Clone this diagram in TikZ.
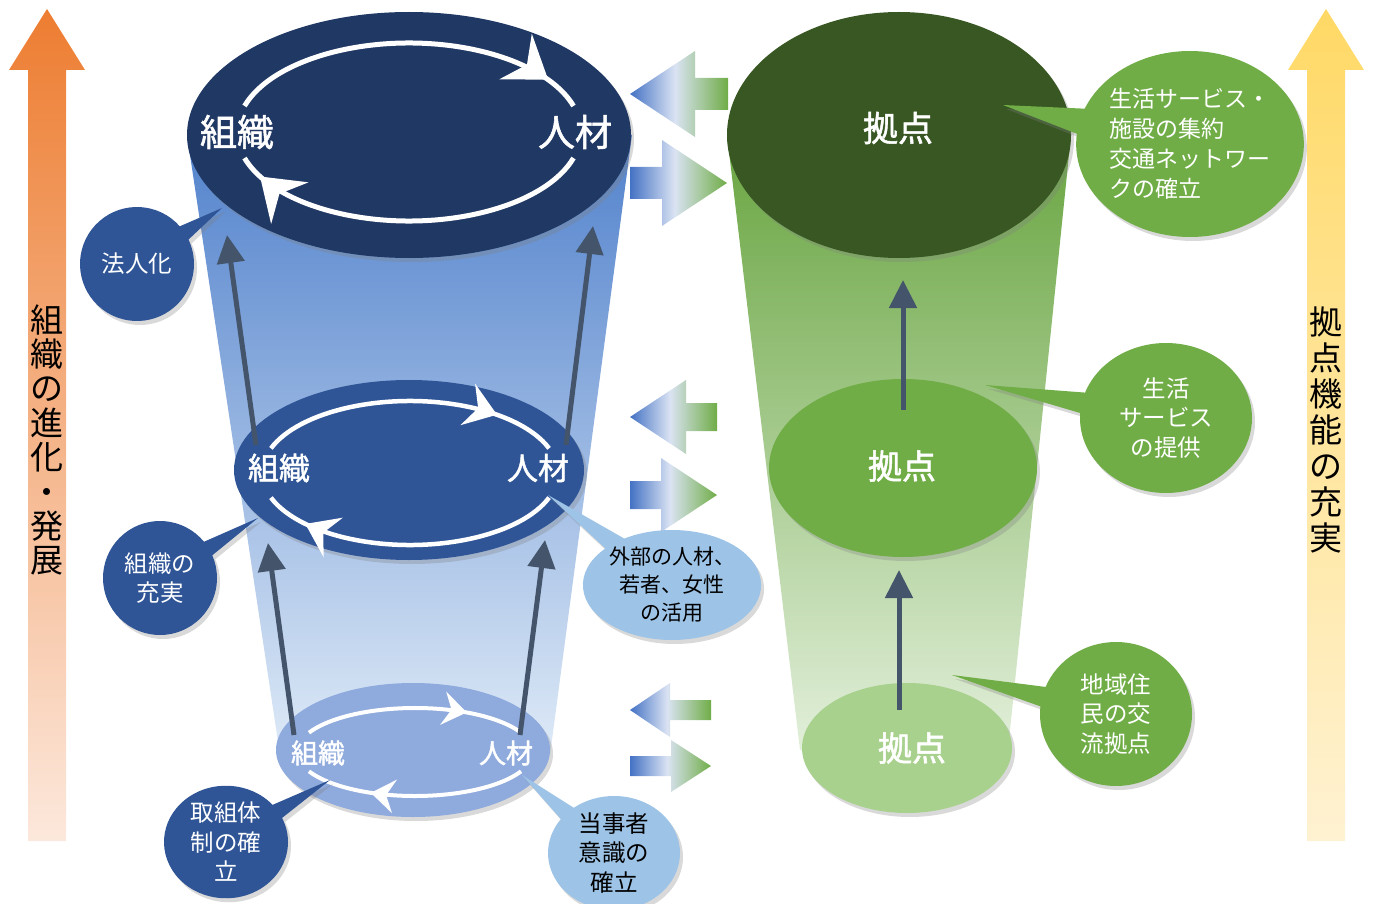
\documentclass[tikz,border=0pt]{standalone}
\usepackage{fontspec}
\newfontfamily\jp{Noto Sans CJK JP}
\newfontfamily\jpbold{Noto Sans CJK JP}[FakeBold=1.5]
\usetikzlibrary{arrows.meta,shapes.geometric,shapes.callouts,shadows}

\definecolor{orgtop}{RGB}{32,56,100}
\definecolor{orgmid}{RGB}{47,85,151}
\definecolor{orglow}{RGB}{143,170,220}
\definecolor{hubtop}{RGB}{56,87,35}
\definecolor{hubmid}{RGB}{112,173,71}
\definecolor{hublow}{RGB}{169,209,142}
\definecolor{riser}{RGB}{68,84,106}
\definecolor{bubblelight}{RGB}{157,195,230}
\definecolor{arrblue}{RGB}{68,114,196}
\definecolor{arrlight}{RGB}{218,227,243}
\definecolor{arrgreen}{RGB}{112,173,71}
\pgfdeclarehorizontalshading{bluegreen}{100bp}{color(0bp)=(arrblue); color(25bp)=(arrblue);
  color(48bp)=(arrlight); color(75bp)=(arrgreen); color(100bp)=(arrgreen)}

% chevron head on a ring: centre, radii, angle, length, width, inset
\newcommand\chevron[8]{%
  \pgfmathsetmacro\ux{-#3/100*sin(#5)}\pgfmathsetmacro\uy{#4/100*cos(#5)}%
  \pgfmathsetmacro\un{sqrt(\ux*\ux+\uy*\uy)}%
  \pgfmathsetmacro\ux{\ux/\un}\pgfmathsetmacro\uy{\uy/\un}%
  \pgfmathsetmacro\px{#1+#3*cos(#5)}\pgfmathsetmacro\py{#2+#4*sin(#5)}%
  \fill[white] (\px,\py) -- ({\px-#6*\ux-#7/2*\uy},{\py-#6*\uy+#7/2*\ux})
     -- ({\px-(#6-#8)*\ux},{\py-(#6-#8)*\uy})
     -- ({\px-#6*\ux+#7/2*\uy},{\py-#6*\uy-#7/2*\ux}) -- cycle;}

\tikzset{
  castshadow/.style={drop shadow={shadow xshift=3pt,shadow yshift=-4pt,opacity=0.3}},
  riserline/.style={draw=riser,line width=5pt,-{Triangle[length=28pt,width=27pt]}},
  bubble/.style={ellipse callout,callout pointer arc=16,inner sep=0pt,align=center,
    font=\jp\fontsize{23.5}{29.5}\selectfont,castshadow},
  darkbubble/.style={bubble,fill=orgmid,text=white},
  lightbubble/.style={bubble,fill=bubblelight,text=black},
  greenbubble/.style={bubble,fill=hubmid,text=white}
}

\begin{document}
\begin{tikzpicture}[x=1pt,y=-1pt]
\useasboundingbox (0,0) rectangle (1373,904);

% funnels
\shade[top color={rgb,255:red,82;green,130;blue,204},bottom color={rgb,255:red,222;green,234;blue,247}]
      (187,135) -- (632,135) -- (550,755) -- (280,755) -- cycle;
\shade[top color={rgb,255:red,105;green,165;blue,65},bottom color={rgb,255:red,226;green,239;blue,218}]
      (727,135) -- (1071,135) -- (1008,750) -- (800,750) -- cycle;

% side arrows
\shade[top color={rgb,255:red,237;green,125;blue,49},bottom color={rgb,255:red,252;green,232;blue,220}]
      (47,9) -- (85,70) -- (66,70) -- (66,841) -- (28,841) -- (28,70) -- (9,70) -- cycle;
\shade[top color={rgb,255:red,255;green,217;blue,102},bottom color={rgb,255:red,255;green,242;blue,210}]
      (1326,9) -- (1364,70) -- (1345,70) -- (1345,841) -- (1307,841) -- (1307,70) -- (1288,70) -- cycle;
\node[font=\jp\fontsize{33}{34.4}\selectfont,align=center] (evolve) at (47,440)
      {組\\織\\の\\進\\化\\・\\発\\展};
\node[font=\jp\fontsize{33}{36}\selectfont,align=center] (enrich) at (1326,430)
      {拠\\点\\機\\能\\の\\充\\実};

% exchange arrows
\foreach \cy/\hx/\hh/\sh/\ex in {94/695/43/16/728, 417/686/37/14/717, 710/670/27/10/711}
    \shade[shading=bluegreen] (630,\cy) -- (\hx,\cy-\hh) -- (\hx,\cy-\sh) -- (\ex,\cy-\sh)
          -- (\ex,\cy+\sh) -- (\hx,\cy+\sh) -- (\hx,\cy+\hh) -- cycle;
\foreach \cy/\hx/\hh/\sh/\ex in {183/662/43/16/727, 495/661/37/14/717, 766/671/26/10/711}
    \shade[shading=bluegreen] (630,\cy-\sh) -- (\hx,\cy-\sh) -- (\hx,\cy-\hh) -- (\ex,\cy)
          -- (\hx,\cy+\hh) -- (\hx,\cy+\sh) -- (630,\cy+\sh) -- cycle;

% discs
\fill[orgtop,castshadow] (409,135) ellipse [x radius=222,y radius=123];
\fill[orgmid,castshadow] (409,470) ellipse [x radius=175,y radius=90];
\fill[orglow,castshadow] (413,750) ellipse [x radius=137,y radius=67];
\fill[hubtop,castshadow] (899,135) ellipse [x radius=172,y radius=123];
\fill[hubmid,castshadow] (903,468) ellipse [x radius=134,y radius=89];
\fill[hublow,castshadow] (907,748) ellipse [x radius=105,y radius=65];

% cycles
\foreach \cx/\cy/\rx/\ry/\g/\ta/\tb/\w/\tl/\tw/\ti in
    {409/132/172/89/17/324/150/5/40/56/14, 410/473/148/72/20/306/135/4.5/31/44/11,
     415/752/118/44/26/296/112/4/24/34/8.5}
{
    \draw[white,line width=\w pt] ({\cx+\rx*cos(180+\g)},{\cy+\ry*sin(180+\g)})
          arc[start angle={180+\g},end angle={360-\g},x radius=\rx,y radius=\ry];
    \draw[white,line width=\w pt] ({\cx+\rx*cos(\g)},{\cy+\ry*sin(\g)})
          arc[start angle={\g},end angle={180-\g},x radius=\rx,y radius=\ry];
    \chevron{\cx}{\cy}{\rx}{\ry}{\ta}{\tl}{\tw}{\ti}
    \chevron{\cx}{\cy}{\rx}{\ry}{\tb}{\tl}{\tw}{\ti}
}

\node[text=white,font=\jpbold\fontsize{37}{40}\selectfont] (orgT) at (237,132) {組織};
\node[text=white,font=\jpbold\fontsize{37}{40}\selectfont] (jinT) at (575,132) {人材};
\node[text=white,font=\jpbold\fontsize{31}{34}\selectfont] (orgM) at (279,468) {組織};
\node[text=white,font=\jpbold\fontsize{31}{34}\selectfont] (jinM) at (538,468) {人材};
\node[text=white,font=\jpbold\fontsize{27}{30}\selectfont] (orgL) at (318,753) {組織};
\node[text=white,font=\jpbold\fontsize{27}{30}\selectfont] (jinL) at (506,753) {人材};
\node[text=white,font=\jpbold\fontsize{35}{38}\selectfont] (hubT) at (898,128) {拠点};
\node[text=white,font=\jpbold\fontsize{34}{37}\selectfont] (hubM) at (902,466) {拠点};
\node[text=white,font=\jpbold\fontsize{34}{37}\selectfont] (hubL) at (912,748) {拠点};

% risers
\coordinate (orgMfoot) at (256,445);  \coordinate (orgTtip) at (227,235);
\coordinate (jinMfoot) at (566,445);  \coordinate (jinTtip) at (593,226);
\coordinate (orgLfoot) at (294,735);  \coordinate (orgMtip) at (268,543);
\coordinate (jinLfoot) at (520,735);  \coordinate (jinMtip) at (545,540);
\coordinate (hubMfoot) at (903,410);  \coordinate (hubTtip) at (903,280);
\coordinate (hubLfoot) at (899,710);  \coordinate (hubMtip) at (899,570);
\draw[riserline] (orgMfoot) -- (orgTtip);
\draw[riserline] (jinMfoot) -- (jinTtip);
\draw[riserline] (orgLfoot) -- (orgMtip);
\draw[riserline] (jinLfoot) -- (jinMtip);
\draw[riserline] (hubMfoot) -- (hubTtip);
\draw[riserline] (hubLfoot) -- (hubMtip);

% callouts
\coordinate (hojinTip)   at (222,208);
\coordinate (jujitsuTip) at (258,518);
\coordinate (taiseiTip)  at (330,780);
\coordinate (gaibuTip)   at (548,495);
\coordinate (tojishaTip) at (522,775);
\coordinate (shuyakuTip) at (1003,105);
\coordinate (teikyoTip)  at (985,385);
\coordinate (koryuTip)   at (952,675);

\node[darkbubble,minimum width=114pt,minimum height=114pt,callout absolute pointer={(hojinTip)}]
     (hojin) at (137,264) {法人化};
\node[darkbubble,minimum width=114pt,minimum height=114pt,callout absolute pointer={(jujitsuTip)}]
     (jujitsu) at (160,578) {組織の\\充実};
\node[darkbubble,minimum width=124pt,minimum height=100pt,callout absolute pointer={(taiseiTip)}]
     (taisei) at (226,842) {取組体\\制の確\\立};
\node[lightbubble,minimum width=170pt,minimum height=110pt,font=\jp\fontsize{21}{28}\selectfont,
      callout absolute pointer={(gaibuTip)}]
     (gaibu) at (672,585) {外部の人材、\\若者、女性\\の活用};
\node[lightbubble,minimum width=132pt,minimum height=110pt,callout absolute pointer={(tojishaTip)}]
     (tojisha) at (614,853) {当事者\\意識の\\確立};
\node[greenbubble,minimum width=200pt,minimum height=186pt,align=left,
      font=\jp\fontsize{23}{30}\selectfont,callout absolute pointer={(shuyakuTip)}]
     (shuyaku) at (1190,144) {生活サービス・\\施設の集約\\交通ネットワー\\クの確立};
\node[greenbubble,minimum width=172pt,minimum height=150pt,callout absolute pointer={(teikyoTip)}]
     (teikyo) at (1166,418) {生活\\サービス\\の提供};
\node[greenbubble,minimum width=152pt,minimum height=144pt,callout absolute pointer={(koryuTip)}]
     (koryu) at (1116,714) {地域住\\民の交\\流拠点};
\end{tikzpicture}
\end{document}
